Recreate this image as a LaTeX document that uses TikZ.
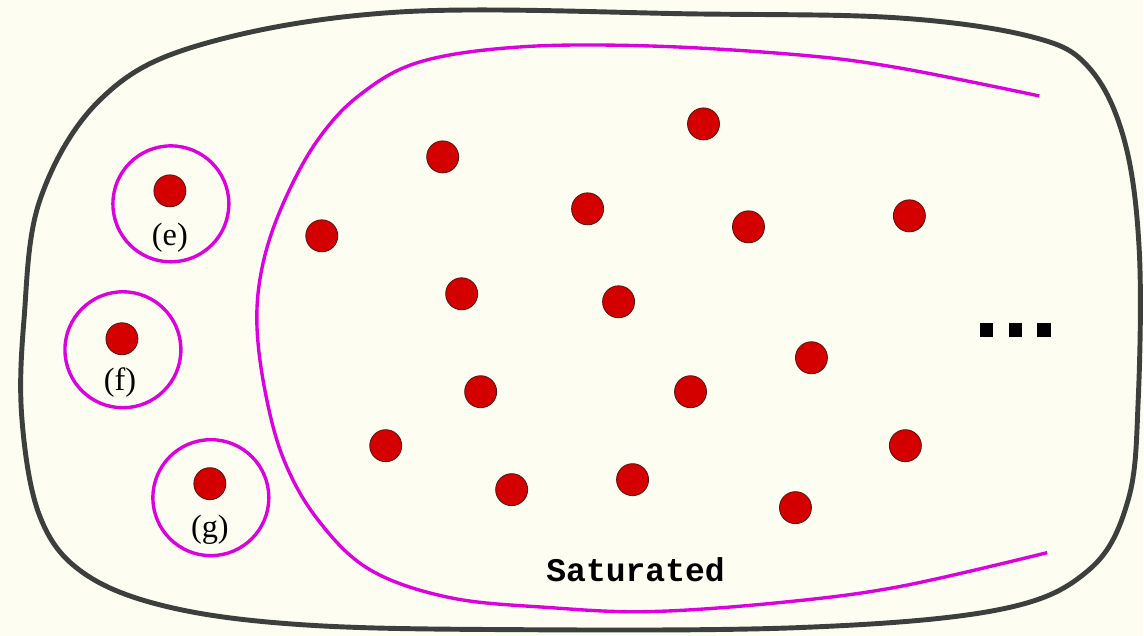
\documentclass[tikz,border=0pt]{standalone}
\usepackage{fontspec}
\setmainfont{Liberation Serif}
\setmonofont{Liberation Mono}
\usepackage{tikz}
\definecolor{bgcream}{HTML}{FDFDF2}
\definecolor{blobgray}{HTML}{3C3F3C}
\definecolor{satmagenta}{HTML}{DC00E0}
\definecolor{dotred}{HTML}{D40000}
\definecolor{dotrim}{HTML}{5A1414}

\begin{document}
\begin{tikzpicture}[x=0.025cm,y=-0.025cm,
  dot/.style={circle,draw=dotrim,fill=dotred,line width=0.6pt,
    minimum size=0.8cm,inner sep=0pt},
  ring/.style={circle,draw=satmagenta,line width=2.4pt,
    minimum size=2.9cm,inner sep=0pt},
  lbl/.style={font=\fontsize{23}{26}\selectfont,inner sep=0pt},
  sq/.style={rectangle,fill=black,minimum size=0.34cm,inner sep=0pt}]

  % background and page size
  \fill[bgcream] (0,0) rectangle (1144,636);

  % outer blob
  \draw[blobgray,line width=3.5pt] plot[smooth cycle,tension=0.6] coordinates {
    (400,12) (700,14) (900,18) (1033,37) (1090,68) (1125,140) (1140,250)
    (1139,400) (1129,500) (1090,570) (1000,610) (800,628) (500,630)
    (300,625) (167,607) (83,573) (40,517) (22,420) (24,320) (40,200)
    (100,100) (200,45)};

  % saturated region
  \draw[satmagenta,line width=2.4pt] plot[smooth,tension=0.6] coordinates {
    (1040,96) (900,68) (800,55) (650,46) (520,47) (420,62) (360,95)
    (318,140) (285,200) (264,260) (257,320) (265,390) (284,460)
    (318,520) (370,570) (450,598) (550,608) (650,612) (780,603)
    (900,587) (1048,553)};

  % isolated vertices
  \node[ring] (re) at (171,204) {};
  \node[ring] (rf) at (123,350) {};
  \node[ring] (rg) at (211,498) {};
  \node[dot] (e) at (170,191) {};
  \node[dot] (f) at (122,339) {};
  \node[dot] (g) at (210,484) {};
  \node[lbl] (le) at (170,238) {(e)};
  \node[lbl] (lf) at (120,383) {(f)};
  \node[lbl] (lg) at (210,530) {(g)};

  % saturated vertices
  \node[dot] (s1) at (443,157) {};
  \node[dot] (s2) at (704,124) {};
  \node[dot] (s3) at (322,236) {};
  \node[dot] (s4) at (588,209) {};
  \node[dot] (s5) at (749,227) {};
  \node[dot] (s6) at (910,216) {};
  \node[dot] (s7) at (462,294) {};
  \node[dot] (s8) at (619,302) {};
  \node[dot] (s9) at (812,358) {};
  \node[dot] (s10) at (481,392) {};
  \node[dot] (s11) at (691,392) {};
  \node[dot] (s12) at (386,446) {};
  \node[dot] (s13) at (906,446) {};
  \node[dot] (s14) at (512,490) {};
  \node[dot] (s15) at (633,480) {};
  \node[dot] (s16) at (796,508) {};

  % ellipsis
  \node[sq] (q1) at (987,330) {};
  \node[sq] (q2) at (1016,330) {};
  \node[sq] (q3) at (1045,330) {};

  \node[font=\ttfamily\bfseries\fontsize{23.5}{26}\selectfont,inner sep=0pt]
    (sat) at (636,570) {Saturated};
\end{tikzpicture}
\end{document}
